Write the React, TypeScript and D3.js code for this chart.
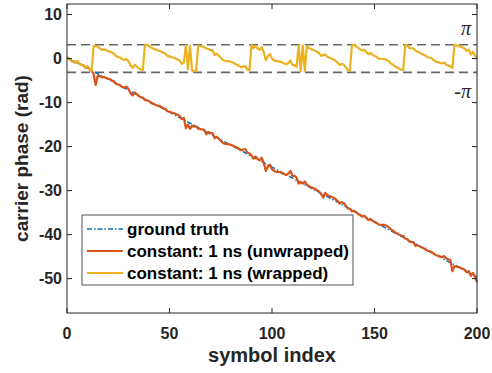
import React from "react";
import * as d3 from "d3";

const W = 492;
const H = 373;

const xTicks = [0, 50, 100, 150, 200];
const yTicks = [10, 0, -10, -20, -30, -40, -50];
const legendLabels = ["ground truth", "constant: 1 ns (unwrapped)", "constant: 1 ns (wrapped)"];
const piLabels = ["π", "-π"];
const piLevels = [Math.PI, -Math.PI];

const groundTruthX = [0, 200];
const groundTruthY = [0.3, -49.6];

const unwrapped = [
  0.2, 0.0, -0.5, -0.7, -0.9, -0.6, -1.2, -1.4, -1.5, -2.1,
  -1.8, -2.4, -2.8, -3.5, -6.0, -3.9, -3.98, -4.28, -4.18, -4.38,
  -4.58, -4.68, -4.98, -5.18, -5.78, -5.88, -6.08, -6.48, -6.58, -6.38,
  -6.88, -7.88, -8.38, -7.68, -8.08, -8.48, -8.78, -8.88, -9.47, -9.47,
  -9.67, -10.07, -10.27, -10.47, -10.67, -10.77, -10.97, -11.27, -11.47, -11.97,
  -12.07, -12.27, -12.37, -12.57, -12.77, -13.07, -13.77, -13.47, -15.85, -14.97,
  -15.95, -15.27, -15.47, -15.37, -15.95, -16.05, -16.05, -16.25, -17.2, -16.65,
  -16.95, -16.95, -18.05, -17.75, -18.15, -18.65, -19.15, -19.35, -19.45, -19.45,
  -19.65, -19.75, -20.05, -20.25, -20.55, -20.85, -20.65, -20.55, -21.35, -21.55,
  -22.03, -22.73, -22.23, -22.83, -23.13, -22.53, -23.73, -25.53, -24.53, -24.13,
  -25.13, -25.53, -25.73, -25.73, -25.83, -26.03, -26.23, -26.43, -26.13, -25.53,
  -26.63, -26.63, -27.03, -28.42, -28.03, -28.42, -27.93, -28.62, -29.02, -29.22,
  -29.42, -29.62, -29.92, -30.22, -30.82, -31.6, -30.52, -31.02, -31.22, -31.42,
  -31.62, -31.92, -32.32, -32.92, -32.62, -32.82, -33.42, -34.02, -34.12, -34.7,
  -34.6, -34.9, -35.3, -35.6, -35.9, -35.7, -36.2, -36.7, -36.4, -36.8,
  -37.1, -37.3, -37.7, -37.8, -37.8, -37.8, -38.0, -38.3, -38.8, -39.1,
  -39.5, -39.7, -40.0, -40.2, -40.3, -40.88, -40.98, -41.58, -41.68, -41.68,
  -42.6, -42.38, -42.68, -42.88, -43.08, -43.38, -43.68, -43.78, -43.98, -44.38,
  -44.68, -44.78, -44.98, -45.08, -44.88, -45.38, -45.58, -45.78, -48.3, -47.17,
  -47.27, -47.37, -47.57, -47.77, -47.97, -48.57, -48.27, -49.37, -48.67, -49.57,
  -50.8,
];

const wrapped = [
  0.2, 0.0, -0.5, -0.7, -0.9, -0.6, -1.2, -1.4, -1.5, -2.1,
  -1.8, -2.4, -2.8, 2.9, 2.8, 2.7, 2.3, 2.0, 2.1, 1.9,
  1.7, 1.6, 1.3, 1.1, 0.5, 0.4, 0.2, -0.2, -0.3, -0.1,
  -0.6, -1.6, -2.1, -1.4, -1.8, -2.2, -2.5, -2.6, 3.1, 3.1,
  2.9, 2.5, 2.3, 2.1, 1.9, 1.8, 1.6, 1.3, 1.1, 0.6,
  0.5, 0.3, 0.2, 0.0, -0.2, -0.5, -1.2, -0.9, 3.0, -2.4,
  2.9, -2.7, -2.9, -2.8, 2.9, 2.8, 2.8, 2.6, 2.3, 2.2,
  1.9, 1.9, 0.8, 1.1, 0.7, 0.2, -0.3, -0.5, -0.6, -0.6,
  -0.8, -0.9, -1.2, -1.4, -1.7, -2.0, -1.8, -1.7, -2.5, -2.7,
  3.1, 2.4, 2.9, 2.3, 2.0, 2.6, 1.4, -0.4, 0.6, 1.0,
  0.0, -0.4, -0.6, -0.6, -0.7, -0.9, -1.1, -1.3, -1.0, -0.4,
  -1.5, -1.5, -1.9, 3.0, -2.9, 3.0, -2.8, 2.8, 2.4, 2.2,
  2.0, 1.8, 1.5, 1.2, 0.6, 0.8, 0.9, 0.4, 0.2, 0.0,
  -0.2, -0.5, -0.9, -1.5, -1.2, -1.4, -2.0, -2.6, -2.7, 3.0,
  3.1, 2.8, 2.4, 2.1, 1.8, 2.0, 1.5, 1.0, 1.3, 0.9,
  0.6, 0.4, 0.0, -0.1, -0.1, -0.1, -0.3, -0.6, -1.1, -1.4,
  -1.8, -2.0, -2.3, -2.5, -2.6, 3.1, 3.0, 2.4, 2.3, 2.3,
  1.8, 1.6, 1.3, 1.1, 0.9, 0.6, 0.3, 0.2, 0.0, -0.4,
  -0.7, -0.8, -1.0, -1.1, -0.9, -1.4, -1.6, -1.8, -2.1, 3.1,
  3.0, 2.9, 2.7, 2.5, 2.3, 1.7, 2.0, 0.9, 1.6, 0.7,
  -0.1,
];

const AX = "#262626";
const BLUE = "#0072BD";
const ORANGE = "#D95319";
const YELLOW = "#EDB120";
const SANS = "'Liberation Sans', Arial, Helvetica, sans-serif";
const SERIF = "'Liberation Serif', 'DejaVu Serif', serif";

export default function App() {
  const left = 67, right = 477, top = 4, bottom = 313;
  const x = d3.scaleLinear().domain([0, 200]).range([left, right]);
  const y = d3.scaleLinear().domain([-57.8, 12.4]).range([bottom, top]);

  const line = d3
    .line<[number, number]>()
    .x((d) => x(d[0]))
    .y((d) => y(d[1]));

  const gtPts: [number, number][] = groundTruthX.map((v, i) => [v, groundTruthY[i]]);
  const unPts: [number, number][] = unwrapped.map((v, i) => [i, v]);
  const wrPts: [number, number][] = wrapped.map((v, i) => [i, v]);

  const tick = 5;
  const legend = { x: 82, y: 215, w: 271, h: 70 };
  const rowY = [229, 251, 273];
  const legendStyles = [
    { stroke: BLUE, dash: "5,2,1.5,2", width: 1.5 },
    { stroke: ORANGE, dash: undefined, width: 2.2 },
    { stroke: YELLOW, dash: undefined, width: 2.2 },
  ];

  return (
    <svg
      width={W}
      height={H}
      style={{ position: "absolute", left: 0, top: 0, background: "#fff" }}
    >
      <rect x={0} y={0} width={W} height={H} fill="#fff" />
      {piLevels.map((p, i) => (
        <line
          key={"pi" + i}
          x1={left}
          x2={right}
          y1={y(p)}
          y2={y(p)}
          stroke="#666666"
          strokeWidth={1.6}
          strokeDasharray="9,5"
        />
      ))}
      <path d={line(gtPts) || ""} fill="none" stroke={BLUE} strokeWidth={1.5} strokeDasharray="5,2,1.5,2" />
      <path d={line(unPts) || ""} fill="none" stroke={ORANGE} strokeWidth={2.2} strokeLinejoin="round" />
      <path d={line(wrPts) || ""} fill="none" stroke={YELLOW} strokeWidth={2.2} strokeLinejoin="round" />

      <rect x={left} y={top} width={right - left} height={bottom - top} fill="none" stroke={AX} strokeWidth={1} />
      {xTicks.map((t) => (
        <g key={"xt" + t}>
          <line x1={x(t)} x2={x(t)} y1={bottom} y2={bottom - tick} stroke={AX} />
          <line x1={x(t)} x2={x(t)} y1={top} y2={top + tick} stroke={AX} />
          <text
            x={x(t)}
            y={339}
            textAnchor="middle"
            fontFamily={SANS}
            fontWeight="bold"
            fontSize={16}
            fill={AX}
          >
            {t}
          </text>
        </g>
      ))}
      {yTicks.map((t) => (
        <g key={"yt" + t}>
          <line x1={left} x2={left + tick} y1={y(t)} y2={y(t)} stroke={AX} />
          <line x1={right} x2={right - tick} y1={y(t)} y2={y(t)} stroke={AX} />
          <text
            x={62}
            y={y(t)}
            dy="0.35em"
            textAnchor="end"
            fontFamily={SANS}
            fontWeight="bold"
            fontSize={16}
            fill={AX}
          >
            {String(t)}
          </text>
        </g>
      ))}

      <text x={471} y={35} textAnchor="end" fontFamily={SERIF} fontStyle="italic" fontSize={20} fill={AX}>
        {piLabels[0]}
      </text>
      <text x={471} y={98} textAnchor="end" fontFamily={SERIF} fontStyle="italic" fontSize={20} fill={AX}>
        {piLabels[1]}
      </text>

      <text
        x={(left + right) / 2}
        y={362}
        textAnchor="middle"
        fontFamily={SANS}
        fontWeight="bold"
        fontSize={20}
        fill={AX}
      >
        symbol index
      </text>
      <text
        transform={`translate(28, ${(top + bottom) / 2}) rotate(-90)`}
        textAnchor="middle"
        fontFamily={SANS}
        fontWeight="bold"
        fontSize={19}
        fill={AX}
      >
        carrier phase (rad)
      </text>

      <rect x={legend.x} y={legend.y} width={legend.w} height={legend.h} fill="#fff" stroke={AX} strokeWidth={0.8} />
      {legendLabels.map((lab, i) => (
        <g key={"lg" + i}>
          <line
            x1={87}
            x2={123}
            y1={rowY[i]}
            y2={rowY[i]}
            stroke={legendStyles[i].stroke}
            strokeWidth={legendStyles[i].width}
            strokeDasharray={legendStyles[i].dash}
          />
          <text
            x={127}
            y={rowY[i]}
            dy="0.35em"
            fontFamily={SANS}
            fontWeight="bold"
            fontSize={17}
            fill="#000"
          >
            {lab}
          </text>
        </g>
      ))}
    </svg>
  );
}
